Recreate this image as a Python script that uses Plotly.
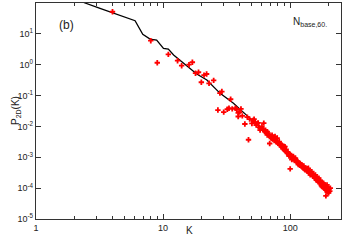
import plotly.graph_objects as go

# Black line (model)
LINE_K = [2.0, 2.43, 3.19, 4.59, 6.02, 6.92, 7.9, 8.9, 10.07, 11.0, 12.1, 18.4, 22.1, 28.1, 35.8, 50, 70, 100, 140, 200]
LINE_P = [150, 100, 67, 40.8, 26.7, 9.66, 6.8, 6.3, 3.4, 3.2, 2.07, 0.5, 0.32, 0.118, 0.056, 0.016, 0.0046, 0.0012, 0.00035, 9e-5]

# Red scatter points (K, P)
PTS = [
    (4, 52), (8, 6.0), (9, 1.16), (11, 2.17), (13, 1.35), (14, 0.93), (16, 1.0), (17, 1.2),
    (18, 0.53), (19, 0.57), (20, 0.27), (21, 0.46), (22, 0.5), (23, 0.25), (25, 0.31),
    (27, 0.034), (28, 0.12), (29, 0.135), (30, 0.029), (32, 0.036), (33, 0.039), (34, 0.076),
    (35, 0.037), (37, 0.039), (38, 0.036), (39, 0.021), (39, 0.0275), (40, 0.029), (41, 0.037),
    (42, 0.022), (44, 0.012), (46, 0.020), (47, 0.0037), (48, 0.0173), (50, 0.0125), (51, 0.0155),
    (52, 0.0173), (53, 0.0137), (54, 0.011), (55, 0.0126), (56, 0.013), (57, 0.0095), (58, 0.0087),
    (58, 0.0076), (60, 0.0098), (61, 0.0082), (62, 0.0128), (62, 0.0077), (63, 0.0068), (64, 0.0076),
    (65, 0.0062), (66, 0.0068), (66, 0.0053), (67, 0.006), (68, 0.0052), (69, 0.0028), (70, 0.0047),
    (71, 0.0041), (72, 0.0052), (73, 0.0039), (74, 0.0044), (75, 0.0035), (76, 0.0047), (77, 0.0036),
    (78, 0.0031), (79, 0.0042), (80, 0.0029), (81, 0.0028), (82, 0.0032), (83, 0.0025), (84, 0.0027),
    (85, 0.0022), (86, 0.0025), (87, 0.0021), (88, 0.0019), (89, 0.0023), (90, 0.0017), (91, 0.0022),
    (92, 0.0016), (93, 0.0018), (94, 0.0015), (95, 0.00133), (96, 0.0014), (97, 0.00125), (98, 0.0011),
    (99, 0.0013), (100, 0.0012), (100, 0.00042), (101, 0.00105), (103, 0.00106), (103, 0.00084),
    (104, 0.00095), (106, 0.00106), (107, 0.0009), (108, 0.00078), (110, 0.00094), (111, 0.00082),
    (112, 0.00072), (113, 0.0007), (114, 0.00075), (115, 0.00066), (116, 0.00058), (117, 0.00064),
    (118, 0.00063), (119, 0.00055), (120, 0.00063), (121, 0.00057), (122, 0.00052), (123, 0.00058),
    (124, 0.00049), (126, 0.0005), (127, 0.00046), (128, 0.00052), (129, 0.00042), (131, 0.00039),
    (132, 0.00045), (133, 0.00041), (135, 0.00037), (136, 0.00043), (137, 0.00035), (139, 0.00044),
    (140, 0.00036), (141, 0.00031), (143, 0.00034), (144, 0.00027), (145, 0.00032), (146, 0.00029),
    (148, 0.00034), (149, 0.00028), (150, 0.00025), (152, 0.00029), (153, 0.00024), (155, 0.00026),
    (156, 0.00021), (158, 0.00027), (159, 0.00022), (160, 0.00019), (162, 0.00023), (163, 0.00018),
    (165, 0.0002), (166, 0.00016), (168, 0.00021), (169, 0.00017), (170, 0.00015), (172, 0.00018),
    (173, 0.00016), (175, 0.00014), (176, 0.00012), (178, 0.000113), (179, 0.00015), (180, 0.00013),
    (181, 0.00011), (183, 0.000144), (184, 0.00012), (185, 0.0001), (187, 0.00013), (188, 0.000095),
    (190, 0.000088), (191, 0.000056), (192, 0.00011), (193, 0.00009), (195, 0.000127), (196, 0.000075),
    (197, 0.000105), (198, 0.000085), (200, 0.0001), (201, 0.00007), (203, 0.000095), (205, 0.00008),
    (207, 0.0001),
]
SCAT_K = [p[0] for p in PTS]
SCAT_P = [p[1] for p in PTS]

X_TICKS = [1, 10, 100]
X_TICKTEXT = ["1", "10", "100"]
Y_TICKS = [1e-5, 1e-4, 1e-3, 1e-2, 1e-1, 1, 10, 100]
Y_TICKTEXT = ["10<sup>-5</sup>", "10<sup>-4</sup>", "10<sup>-3</sup>", "10<sup>-2</sup>",
              "10<sup>-1</sup>", "10<sup>0</sup>", "10<sup>1</sup>", "10<sup>2</sup>"]
X_MINOR = [2, 3, 4, 5, 6, 7, 8, 9, 20, 30, 40, 50, 60, 70, 80, 90, 200]

FONT = "Liberation Sans, Arial, sans-serif"
TXT = "#222222"

W, H = 342, 244
L, R, T, B = 36, 1, 3, 25
pw, ph = W - L - R, H - T - B

fig = go.Figure()
fig.add_trace(go.Scatter(x=LINE_K, y=LINE_P, mode="lines",
                         line=dict(color="black", width=1.3), showlegend=False))
fig.add_trace(go.Scatter(x=SCAT_K, y=SCAT_P, mode="markers",
                         marker=dict(symbol="cross", size=4.5, color="#ff0000", line=dict(width=0)),
                         showlegend=False))

axis_common = dict(showgrid=False, zeroline=False, showline=True, linecolor="#333333", linewidth=1.2,
                   mirror="ticks", ticks="inside", tickcolor="#333333", tickwidth=1, automargin=False,
                   tickfont=dict(family=FONT, size=9, color=TXT))

fig.update_xaxes(type="log", range=[0, 2.4], tickvals=X_TICKS, ticktext=X_TICKTEXT, ticklen=5,
                 minor=dict(tickvals=X_MINOR, ticks="inside", ticklen=3, tickcolor="#333333"),
                 **axis_common)
fig.update_yaxes(type="log", range=[-5, 2], tickvals=Y_TICKS, ticktext=Y_TICKTEXT, ticklen=5,
                 **axis_common)

fig.add_annotation(x=(189 - L) / pw, y=-(238 - T - ph) / ph, xref="paper", yref="paper", text="K",
                   showarrow=False, font=dict(family=FONT, size=10, color=TXT))
fig.add_annotation(x=(8 - L) / pw, y=(ph - (111 - T)) / ph, xref="paper", yref="paper",
                   text="P<sub>2D</sub>(K)", showarrow=False, textangle=-90,
                   font=dict(family=FONT, size=10, color=TXT))
fig.add_annotation(x=(57 - L) / pw, y=(ph - (25 - T)) / ph, xref="paper", yref="paper", text="(b)",
                   showarrow=False, font=dict(family=FONT, size=12, color=TXT),
                   xanchor="left", yanchor="middle")
fig.add_annotation(x=(291 - L) / pw, y=(ph - (22 - T)) / ph, xref="paper", yref="paper",
                   text="N<sub>base,60.</sub>", showarrow=False,
                   font=dict(family=FONT, size=10, color=TXT), xanchor="left", yanchor="middle")

fig.update_layout(width=W, height=H, margin=dict(l=L, r=R, t=T, b=B),
                  plot_bgcolor="white", paper_bgcolor="white")

fig.write_html("out.html", config={"displayModeBar": False},
               post_script="document.body.style.margin='0';document.body.style.overflow='hidden';")
